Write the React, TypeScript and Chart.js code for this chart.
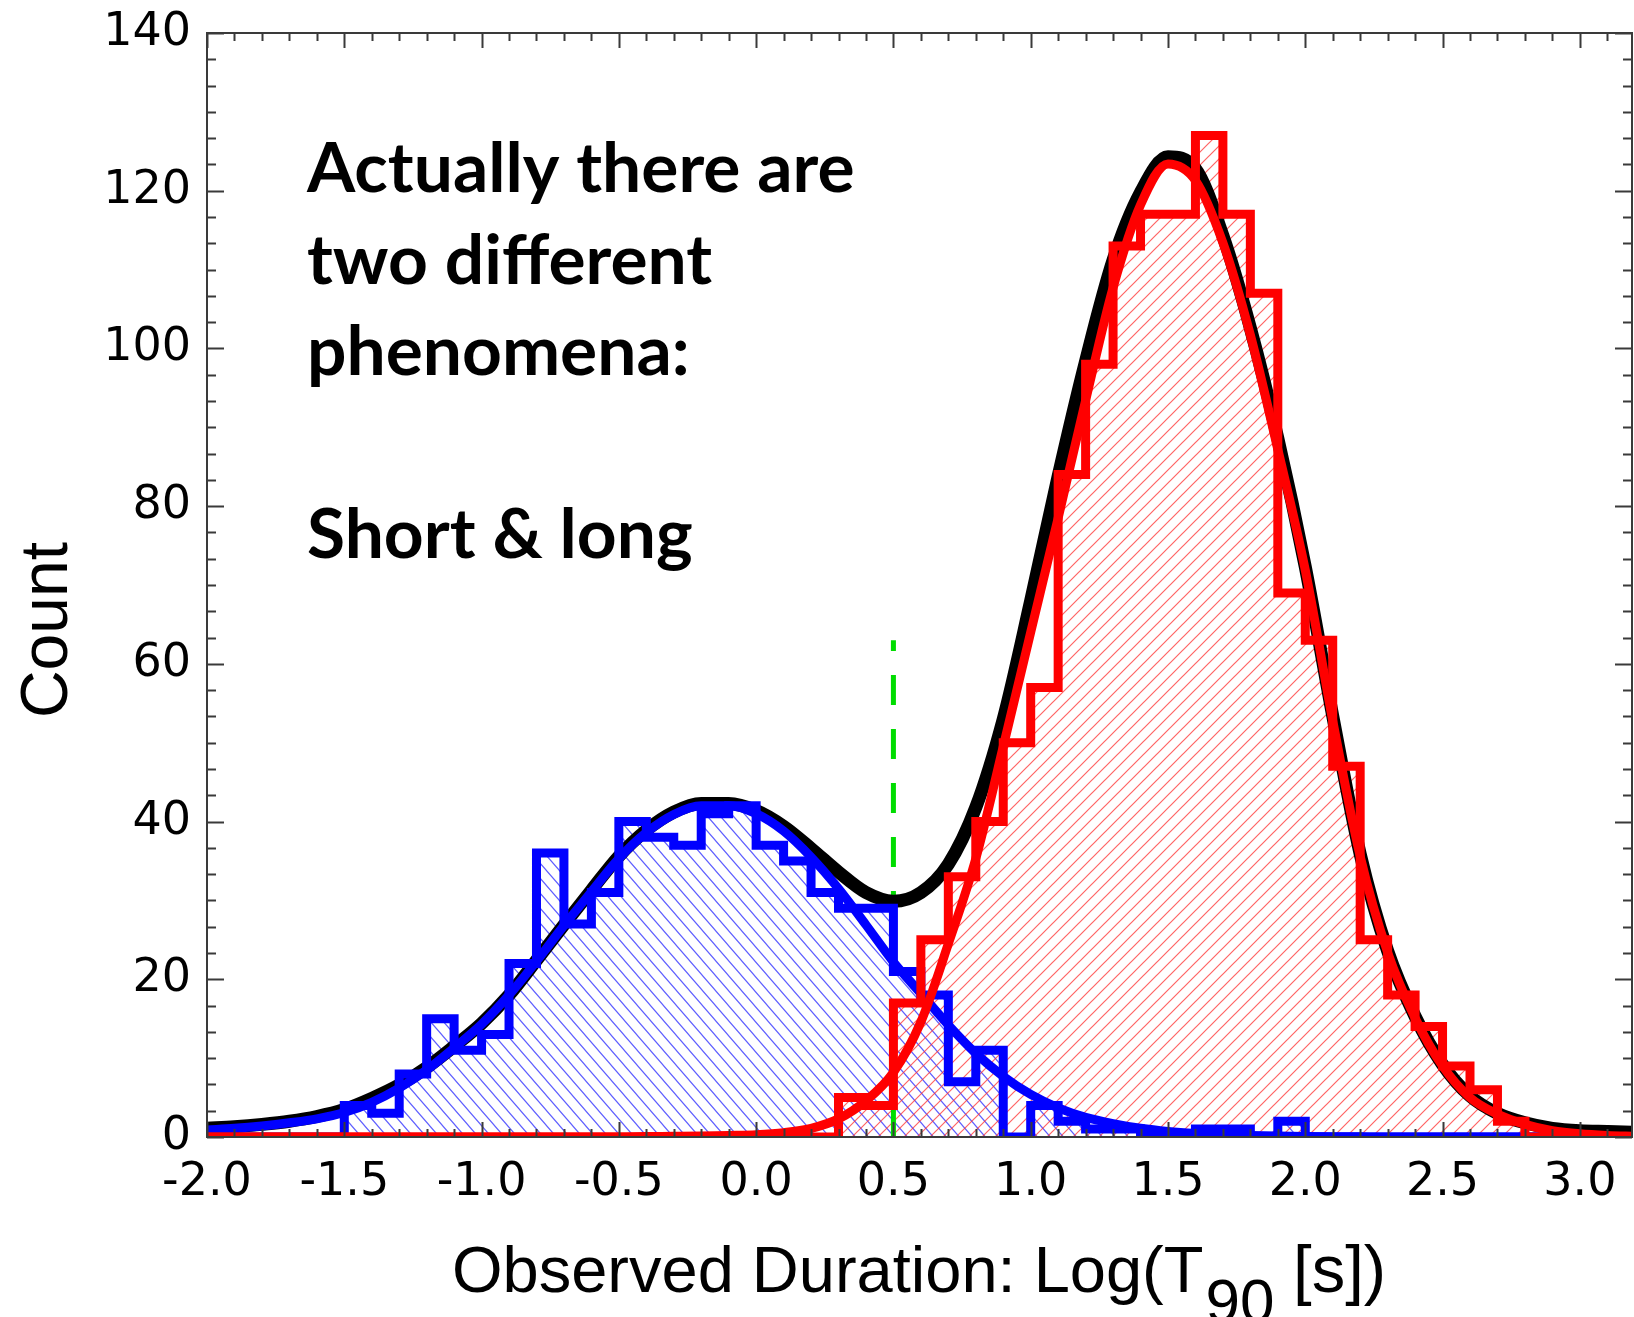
import React, { useEffect, useRef } from "react";
import { Chart, registerables } from "chart.js";

Chart.register(...registerables);

// Log(T90 [s]) grid: histogram bin edges (width 0.1) and fit-curve sample points
const LOG_T90 = [
  -2.0, -1.9, -1.8, -1.7, -1.6, -1.5, -1.4, -1.3, -1.2, -1.1,
  -1.0, -0.9, -0.8, -0.7, -0.6, -0.5, -0.4, -0.3, -0.2, -0.1,
  0.0, 0.1, 0.2, 0.3, 0.4, 0.5, 0.6, 0.7, 0.8, 0.9,
  1.0, 1.1, 1.2, 1.3, 1.4, 1.5, 1.6, 1.7, 1.8, 1.9,
  2.0, 2.1, 2.2, 2.3, 2.4, 2.5, 2.6, 2.7, 2.8, 2.9,
  3.0, 3.1, 3.2,
];

// counts of bursts per bin [LOG_T90[i], LOG_T90[i+1])
const SHORT_COUNTS = [
  0, 0, 0, 0, 0, 4, 3, 8, 15, 11,
  13, 22, 36, 27, 31, 40, 38, 37, 41, 42,
  37, 35, 31, 29, 29, 21, 18, 7, 11, 0,
  4, 2, 1, 1, 0, 0, 1, 1, 0, 2,
  0, 0, 0, 0, 0, 0, 0, 0, 0, 0,
  0, 0,
];

const LONG_COUNTS = [
  0, 0, 0, 0, 0, 0, 0, 0, 0, 0,
  0, 0, 0, 0, 0, 0, 0, 0, 0, 0,
  0, 0, 0, 5, 4, 17, 25, 33, 40, 50,
  57, 84, 98, 113, 117, 117, 127, 117, 107, 69,
  63, 47, 25, 18, 14, 9, 6, 2, 0, 0,
  0, 0,
];

// fitted curves sampled at LOG_T90
const SHORT_FIT = [
  0.9, 1.1, 1.4, 1.8, 2.3, 3.1, 4.4, 6.2, 8.5, 11.3,
  14.3, 18.0, 22.3, 26.8, 31.1, 35.3, 38.6, 40.9, 42.0, 42.0,
  41.0, 38.8, 35.5, 31.5, 26.9, 22.2, 18.2, 14.2, 10.6, 7.7,
  5.4, 3.7, 2.5, 1.7, 1.1, 0.7, 0.45, 0.3, 0.2, 0.12,
  0.07, 0.04, 0.02, 0, 0, 0, 0, 0, 0, 0,
  0, 0, 0,
];

const LONG_FIT = [
  0, 0, 0, 0, 0, 0, 0, 0, 0, 0,
  0, 0, 0, 0, 0, 0, 0.05, 0.08, 0.12, 0.2,
  0.3, 0.55, 1.1, 2.3, 4.6, 8.2, 14.6, 24.5, 35.3, 49.5,
  64.0, 78.5, 93.4, 107.7, 118.2, 123.4, 121.3, 113.4, 101.7, 87.2,
  71.9, 52.8, 35.6, 23.4, 15.1, 9.0, 5.0, 2.9, 1.6, 0.8,
  0.4, 0.2, 0.1,
];

const TOTAL_FIT = [
  1.1, 1.3, 1.6, 2.0, 2.6, 3.5, 4.9, 6.6, 8.8, 11.5,
  14.4, 18.0, 22.4, 26.9, 31.3, 35.6, 38.9, 41.2, 42.3, 42.3,
  41.4, 39.4, 36.6, 33.6, 31.0, 29.9, 31.0, 34.6, 41.8, 53.0,
  68.0, 83.8, 98.4, 111.2, 119.8, 124.3, 122.8, 114.3, 102.6, 88.6,
  72.3, 53.4, 35.9, 23.6, 15.3, 9.2, 5.2, 3.0, 1.8, 1.1,
  0.8, 0.7, 0.6,
];

// dividing line between short and long bursts
const DIVIDER_X = [0.5, 0.5];
const DIVIDER_Y = [0, 63];

const NOTE_LINES = ["Actually there are", "two different", "phenomena:", "", "Short & long"];

const X_TITLE_MAIN = "Observed Duration: Log(T";
const X_TITLE_SUB = "90";
const X_TITLE_END = " [s])";
const Y_TITLE = "Count";

function histPoints(counts: number[]) {
  const pts: { x: number; y: number }[] = [{ x: LOG_T90[0], y: 0 }];
  counts.forEach((c, i) => {
    pts.push({ x: LOG_T90[i], y: c });
    pts.push({ x: LOG_T90[i + 1], y: c });
  });
  pts.push({ x: LOG_T90[counts.length], y: 0 });
  return pts;
}

function curvePoints(vals: number[]) {
  return vals.map((v, i) => ({ x: LOG_T90[i], y: v }));
}

function makeHatch(
  ctx: CanvasRenderingContext2D,
  color: string,
  dir: "back" | "fwd",
  w: number,
  h: number,
  lw: number
) {
  const c = document.createElement("canvas");
  c.width = w;
  c.height = h;
  const g = c.getContext("2d")!;
  g.strokeStyle = color;
  g.lineWidth = lw;
  const d = 3;
  const s = h / w;
  g.beginPath();
  if (dir === "back") {
    g.moveTo(-d, -d * s);
    g.lineTo(w + d, h + d * s);
    g.moveTo(w - d, -d * s);
    g.lineTo(w + d, d * s);
    g.moveTo(-d, h - d * s);
    g.lineTo(d, h + d * s);
  } else {
    g.moveTo(-d, h + d * s);
    g.lineTo(w + d, -d * s);
    g.moveTo(-d, d * s);
    g.lineTo(d, -d * s);
    g.moveTo(w - d, h + d * s);
    g.lineTo(w + d, h - d * s);
  }
  g.stroke();
  return ctx.createPattern(c, "repeat");
}

const framePlugin = {
  id: "frameTicks",
  afterDraw(chart: any) {
    const c = chart.ctx;
    const { left, right, top, bottom } = chart.chartArea;
    const xs = chart.scales.x;
    const ys = chart.scales.y;
    c.save();
    c.strokeStyle = "#3a3a3a";
    c.lineWidth = 2;
    c.strokeRect(left, top, right - left, bottom - top);
    c.beginPath();
    for (let i = 0; i <= 60; i++) {
      const v = -2.0 + i * 0.1;
      if (v > xs.max + 1e-6) break;
      const px = Math.round(xs.getPixelForValue(v)) + 0.5;
      const len = i % 5 === 0 ? 15 : 8;
      c.moveTo(px, bottom);
      c.lineTo(px, bottom - len);
      c.moveTo(px, top);
      c.lineTo(px, top + len);
    }
    for (let i = 0; i <= 42; i++) {
      const v = (i * 20) / 6;
      const py = Math.round(ys.getPixelForValue(v)) + 0.5;
      const len = i % 6 === 0 ? 17 : 9;
      c.moveTo(left, py);
      c.lineTo(left + len, py);
      c.moveTo(right, py);
      c.lineTo(right - len, py);
    }
    c.stroke();
    c.restore();
  },
};

const textPlugin = {
  id: "texts",
  afterDraw(chart: any) {
    const c = chart.ctx;
    c.save();
    c.fillStyle = "#000";
    c.textAlign = "left";
    c.textBaseline = "alphabetic";
    // annotation
    c.font = "bold 69.5px Lato";
    const baselines = [192, 284, 375, 466, 558];
    NOTE_LINES.forEach((t, i) => {
      if (t) c.fillText(t, 307, baselines[i]);
    });
    // x title with subscript
    let x = 452;
    c.font = '65px "Liberation Sans"';
    c.fillText(X_TITLE_MAIN, x, 1292);
    x += c.measureText(X_TITLE_MAIN).width + 2;
    c.font = '62px "Liberation Sans"';
    c.fillText(X_TITLE_SUB, x, 1322);
    x += c.measureText(X_TITLE_SUB).width;
    c.font = '67px "Liberation Sans"';
    c.fillText(X_TITLE_END, x, 1292);
    // y title
    c.translate(67, 630);
    c.rotate(-Math.PI / 2);
    c.textAlign = "center";
    c.font = '66px "Liberation Sans"';
    c.fillText(Y_TITLE, 0, 0);
    c.restore();
  },
};

export default function App() {
  const ref = useRef<HTMLCanvasElement>(null);

  useEffect(() => {
    document.body.style.margin = "0";
    const canvas = ref.current!;
    const ctx = canvas.getContext("2d")!;
    const bluePattern = makeHatch(ctx, "rgba(40,40,255,0.75)", "back", 13, 15, 1.2);
    const redPattern = makeHatch(ctx, "rgba(255,50,50,0.75)", "fwd", 13, 13, 1.2);

    const chart = new Chart(canvas, {
      type: "line",
      data: {
        datasets: [
          {
            label: "Long fit",
            data: curvePoints(LONG_FIT),
            borderColor: "#ff0000",
            borderWidth: 9,
            fill: false,
            cubicInterpolationMode: "monotone",
            pointRadius: 0,
            order: 1,
          },
          {
            label: "Long bursts",
            data: histPoints(LONG_COUNTS),
            borderColor: "#ff0000",
            borderWidth: 9,
            borderJoinStyle: "miter",
            fill: "origin",
            backgroundColor: redPattern as any,
            tension: 0,
            pointRadius: 0,
            order: 2,
          },
          {
            label: "Short fit",
            data: curvePoints(SHORT_FIT),
            borderColor: "#0000ff",
            borderWidth: 9,
            fill: false,
            cubicInterpolationMode: "monotone",
            pointRadius: 0,
            order: 3,
          },
          {
            label: "Short bursts",
            data: histPoints(SHORT_COUNTS),
            borderColor: "#0000ff",
            borderWidth: 9,
            borderJoinStyle: "miter",
            fill: "origin",
            backgroundColor: bluePattern as any,
            tension: 0,
            pointRadius: 0,
            order: 4,
          },
          {
            label: "Total fit",
            data: curvePoints(TOTAL_FIT),
            borderColor: "#000000",
            borderWidth: 13,
            fill: false,
            cubicInterpolationMode: "monotone",
            pointRadius: 0,
            order: 5,
          },
          {
            label: "Divider",
            data: DIVIDER_X.map((v, i) => ({ x: v, y: DIVIDER_Y[i] })),
            borderColor: "#00dd00",
            borderWidth: 5,
            borderDash: [30, 24],
            fill: false,
            pointRadius: 0,
            order: 6,
          },
        ],
      },
      options: {
        responsive: false,
        animation: false,
        events: [],
        layout: { padding: { top: 33, right: 2, left: 0, bottom: 0 } },
        plugins: {
          legend: { display: false },
          tooltip: { enabled: false },
          filler: { drawTime: "beforeDatasetsDraw" } as any,
        },
        scales: {
          x: {
            type: "linear",
            min: -2.0,
            max: 3.19,
            grid: { display: false, drawTicks: false },
            border: { display: false },
            ticks: {
              stepSize: 0.5,
              includeBounds: false,
              autoSkip: false,
              maxRotation: 0,
              padding: 18,
              color: "#000",
              font: { family: "DejaVu Sans", size: 46 },
              callback: (v: any) => (Math.abs(Number(v)) < 1e-9 ? "0.0" : Number(v).toFixed(1)),
            },
            afterFit: (s: any) => {
              s.height = 180;
              s.paddingLeft = 0;
              s.paddingRight = 0;
            },
          },
          y: {
            type: "linear",
            min: 0,
            max: 140,
            grid: { display: false, drawTicks: false },
            border: { display: false },
            ticks: {
              stepSize: 20,
              padding: 16,
              color: "#000",
              font: { family: "DejaVu Sans", size: 46 },
            },
            afterFit: (s: any) => {
              s.width = 207;
              s.paddingTop = 0;
              s.paddingBottom = 0;
            },
          },
        },
      },
      plugins: [framePlugin, textPlugin],
    } as any);

    return () => chart.destroy();
  }, []);

  return (
    <canvas
      ref={ref}
      width={1634}
      height={1317}
      style={{ display: "block", width: "1634px", height: "1317px" }}
    />
  );
}
